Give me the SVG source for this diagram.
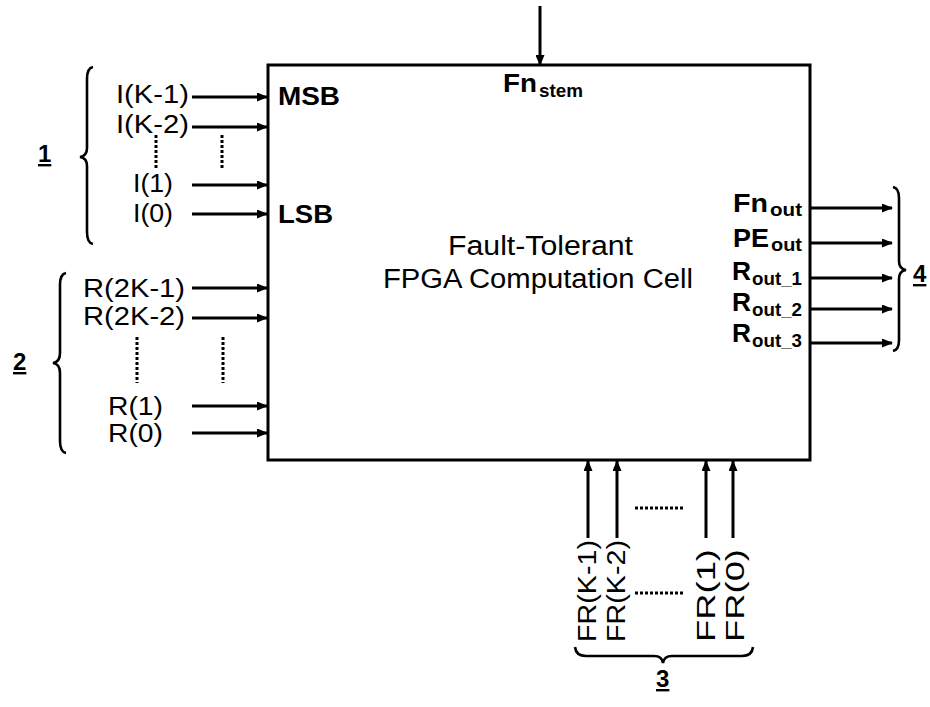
<svg xmlns="http://www.w3.org/2000/svg" width="930" height="707" viewBox="0 0 930 707">
<style>
text{font-family:"Liberation Sans",Arial,sans-serif;fill:#000}
.lbl{font-size:25px}
.ctr{font-size:27px}
.b{font-weight:bold;font-size:26px}
.sub{font-weight:bold;font-size:19px}
.num{font-weight:bold;font-size:24px;text-decoration:underline}
.wire{stroke:#000;stroke-width:3;fill:none;marker-end:url(#ah)}
.dots{stroke:#000;stroke-width:3;fill:none;stroke-dasharray:3 2}
.brace{stroke:#000;stroke-width:2.6;fill:none}
</style>
<defs>
<marker id="ah" markerUnits="userSpaceOnUse" markerWidth="11" markerHeight="9" refX="10" refY="4.5" orient="auto">
<path d="M0,0 L11,4.5 L0,9 z" fill="#000"/>
</marker>
</defs>
<rect width="930" height="707" fill="#fff"/>

<g id="cell">
<rect x="268" y="65" width="542" height="395" fill="#fff" stroke="#000" stroke-width="3"/>
<text class="ctr" x="448" y="255" textLength="185" lengthAdjust="spacingAndGlyphs">Fault-Tolerant</text>
<text class="ctr" x="383" y="288" textLength="310" lengthAdjust="spacingAndGlyphs">FPGA Computation Cell</text>
<text class="b" x="278" y="105" textLength="62" lengthAdjust="spacingAndGlyphs">MSB</text>
<text class="b" x="278" y="223" textLength="55" lengthAdjust="spacingAndGlyphs">LSB</text>
<text class="b" x="503" y="92" textLength="34" lengthAdjust="spacingAndGlyphs">Fn</text>
<text class="sub" x="539" y="97" textLength="44" lengthAdjust="spacingAndGlyphs">stem</text>
<text class="b" x="733" y="212" textLength="35" lengthAdjust="spacingAndGlyphs">Fn</text>
<text class="sub" x="770" y="216" textLength="32" lengthAdjust="spacingAndGlyphs">out</text>
<text class="b" x="733" y="247" textLength="36" lengthAdjust="spacingAndGlyphs">PE</text>
<text class="sub" x="771" y="251" textLength="31" lengthAdjust="spacingAndGlyphs">out</text>
<text class="b" x="732" y="280" textLength="19" lengthAdjust="spacingAndGlyphs">R</text>
<text class="sub" x="752" y="285" textLength="50" lengthAdjust="spacingAndGlyphs">out_1</text>
<text class="b" x="732" y="311" textLength="19" lengthAdjust="spacingAndGlyphs">R</text>
<text class="sub" x="752" y="316" textLength="50" lengthAdjust="spacingAndGlyphs">out_2</text>
<text class="b" x="732" y="342" textLength="19" lengthAdjust="spacingAndGlyphs">R</text>
<text class="sub" x="752" y="347" textLength="50" lengthAdjust="spacingAndGlyphs">out_3</text>
</g>

<g id="connectors">
<line class="wire" x1="540" y1="6" x2="540" y2="65"/>
<line class="wire" x1="192" y1="97" x2="267" y2="97"/>
<line class="wire" x1="192" y1="127" x2="267" y2="127"/>
<line class="wire" x1="192" y1="185" x2="267" y2="185"/>
<line class="wire" x1="192" y1="214" x2="267" y2="214"/>
<line class="wire" x1="192" y1="288" x2="267" y2="288"/>
<line class="wire" x1="192" y1="318" x2="267" y2="318"/>
<line class="wire" x1="192" y1="406" x2="267" y2="406"/>
<line class="wire" x1="192" y1="433" x2="267" y2="433"/>
<line class="wire" x1="811" y1="208" x2="892" y2="208"/>
<line class="wire" x1="811" y1="243" x2="892" y2="243"/>
<line class="wire" x1="811" y1="278" x2="892" y2="278"/>
<line class="wire" x1="811" y1="309" x2="892" y2="309"/>
<line class="wire" x1="811" y1="343" x2="892" y2="343"/>
<line class="wire" x1="588" y1="538" x2="588" y2="461"/>
<line class="wire" x1="617" y1="538" x2="617" y2="461"/>
<line class="wire" x1="706" y1="538" x2="706" y2="461"/>
<line class="wire" x1="733" y1="538" x2="733" y2="461"/>
<line class="dots" x1="156" y1="135" x2="156" y2="168"/>
<line class="dots" x1="222" y1="135" x2="222" y2="168"/>
<line class="dots" x1="137" y1="337" x2="137" y2="383"/>
<line class="dots" x1="223" y1="337" x2="223" y2="383"/>
<line class="dots" x1="635" y1="508" x2="685" y2="508"/>
<line class="dots" x1="635" y1="593" x2="685" y2="593"/>
</g>

<g id="group1">
<path class="brace" d="M93,67 Q87,68 87,79 L87,148 Q87,156 80,157 Q87,158 87,166 L87,232 Q87,243 93,244"/>
<text class="num" x="38" y="162">1</text>
<text class="lbl" x="116" y="103" textLength="73" lengthAdjust="spacingAndGlyphs">I(K-1)</text>
<text class="lbl" x="116" y="133" textLength="73" lengthAdjust="spacingAndGlyphs">I(K-2)</text>
<text class="lbl" x="133" y="192" textLength="40" lengthAdjust="spacingAndGlyphs">I(1)</text>
<text class="lbl" x="133" y="222" textLength="40" lengthAdjust="spacingAndGlyphs">I(0)</text>
</g>

<g id="group2">
<path class="brace" d="M66,273 Q60,274 60,285 L60,353 Q60,362 53,363 Q60,364 60,373 L60,441 Q60,452 66,453"/>
<text class="num" x="13" y="370">2</text>
<text class="lbl" x="83" y="297" textLength="102" lengthAdjust="spacingAndGlyphs">R(2K-1)</text>
<text class="lbl" x="83" y="325" textLength="102" lengthAdjust="spacingAndGlyphs">R(2K-2)</text>
<text class="lbl" x="108" y="415" textLength="55" lengthAdjust="spacingAndGlyphs">R(1)</text>
<text class="lbl" x="108" y="442" textLength="55" lengthAdjust="spacingAndGlyphs">R(0)</text>
</g>

<g id="group3">
<text class="lbl" transform="translate(596,642) rotate(-90)" textLength="102" lengthAdjust="spacingAndGlyphs">FR(K-1)</text>
<text class="lbl" transform="translate(625,642) rotate(-90)" textLength="102" lengthAdjust="spacingAndGlyphs">FR(K-2)</text>
<text class="lbl" transform="translate(715,642) rotate(-90)" textLength="93" lengthAdjust="spacingAndGlyphs">FR(1)</text>
<text class="lbl" transform="translate(744,642) rotate(-90)" textLength="93" lengthAdjust="spacingAndGlyphs">FR(0)</text>
<path class="brace" d="M575,647 Q576,656 586,656 L654,656 Q662,656 663,663 Q664,656 672,656 L742,656 Q752,656 753,647"/>
<text class="num" x="656" y="687">3</text>
</g>

<g id="group4">
<path class="brace" d="M893,187 Q899,188 899,198 L899,261 Q899,269 906,270 Q899,271 899,279 L899,340 Q899,350 893,351"/>
<text class="num" x="913" y="282">4</text>
</g>
</svg>
